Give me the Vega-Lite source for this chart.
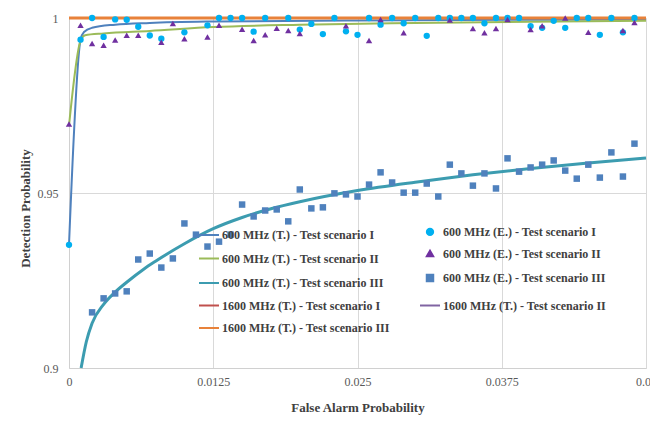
{
  "$schema": "https://vega.github.io/schema/vega-lite/v6.json",
  "width": 577,
  "height": 350,
  "autosize": {"type": "none"},
  "padding": {"left": 69, "top": 18, "right": 4, "bottom": 53},
  "background": "white",
  "config": {
    "view": {"stroke": null},
    "axis": {
      "labelFont": "Liberation Serif",
      "labelFontSize": 12,
      "labelColor": "#595959",
      "titleFont": "Liberation Serif",
      "titleFontSize": 13,
      "titleFontWeight": "bold",
      "titleColor": "#404040",
      "gridColor": "#d9d9d9",
      "domainColor": "#d0d0d0",
      "tickSize": 0
    }
  },
  "datasets": {
    "thin": [
      {"s": "600 MHz (T.) - Test scenario I", "x": 0, "y": 0.9352},
      {"s": "600 MHz (T.) - Test scenario I", "x": 0.001, "y": 0.9938},
      {"s": "600 MHz (T.) - Test scenario I", "x": 0.0013, "y": 0.996},
      {"s": "600 MHz (T.) - Test scenario I", "x": 0.002, "y": 0.9972},
      {"s": "600 MHz (T.) - Test scenario I", "x": 0.004, "y": 0.9981},
      {"s": "600 MHz (T.) - Test scenario I", "x": 0.007, "y": 0.9986},
      {"s": "600 MHz (T.) - Test scenario I", "x": 0.0125, "y": 0.999},
      {"s": "600 MHz (T.) - Test scenario I", "x": 0.025, "y": 0.9993},
      {"s": "600 MHz (T.) - Test scenario I", "x": 0.05, "y": 0.99957},
      {"s": "600 MHz (T.) - Test scenario II", "x": 0, "y": 0.9692},
      {"s": "600 MHz (T.) - Test scenario II", "x": 0.001, "y": 0.9935},
      {"s": "600 MHz (T.) - Test scenario II", "x": 0.0014, "y": 0.9951},
      {"s": "600 MHz (T.) - Test scenario II", "x": 0.003, "y": 0.9956},
      {"s": "600 MHz (T.) - Test scenario II", "x": 0.007, "y": 0.9963},
      {"s": "600 MHz (T.) - Test scenario II", "x": 0.0125, "y": 0.9974},
      {"s": "600 MHz (T.) - Test scenario II", "x": 0.02, "y": 0.9981},
      {"s": "600 MHz (T.) - Test scenario II", "x": 0.03, "y": 0.9986},
      {"s": "600 MHz (T.) - Test scenario II", "x": 0.04, "y": 0.9989},
      {"s": "600 MHz (T.) - Test scenario II", "x": 0.05, "y": 0.9992},
      {"s": "1600 MHz (T.) - Test scenario I", "x": 0, "y": 1},
      {"s": "1600 MHz (T.) - Test scenario I", "x": 0.05, "y": 1},
      {"s": "1600 MHz (T.) - Test scenario II", "x": 0, "y": 1},
      {"s": "1600 MHz (T.) - Test scenario II", "x": 0.05, "y": 1}
    ],
    "thick": [
      {"s": "600 MHz (T.) - Test scenario III", "x": 0.00105, "y": 0.9},
      {"s": "600 MHz (T.) - Test scenario III", "x": 0.0015, "y": 0.9075},
      {"s": "600 MHz (T.) - Test scenario III", "x": 0.002, "y": 0.9128},
      {"s": "600 MHz (T.) - Test scenario III", "x": 0.003, "y": 0.9182},
      {"s": "600 MHz (T.) - Test scenario III", "x": 0.004, "y": 0.9217},
      {"s": "600 MHz (T.) - Test scenario III", "x": 0.005, "y": 0.9245},
      {"s": "600 MHz (T.) - Test scenario III", "x": 0.0065, "y": 0.9283},
      {"s": "600 MHz (T.) - Test scenario III", "x": 0.0075, "y": 0.9305},
      {"s": "600 MHz (T.) - Test scenario III", "x": 0.01, "y": 0.9355},
      {"s": "600 MHz (T.) - Test scenario III", "x": 0.0125, "y": 0.9398},
      {"s": "600 MHz (T.) - Test scenario III", "x": 0.015, "y": 0.943},
      {"s": "600 MHz (T.) - Test scenario III", "x": 0.0175, "y": 0.9455},
      {"s": "600 MHz (T.) - Test scenario III", "x": 0.02, "y": 0.9475},
      {"s": "600 MHz (T.) - Test scenario III", "x": 0.025, "y": 0.9507},
      {"s": "600 MHz (T.) - Test scenario III", "x": 0.03, "y": 0.9531},
      {"s": "600 MHz (T.) - Test scenario III", "x": 0.035, "y": 0.9552},
      {"s": "600 MHz (T.) - Test scenario III", "x": 0.04, "y": 0.957},
      {"s": "600 MHz (T.) - Test scenario III", "x": 0.045, "y": 0.9586},
      {"s": "600 MHz (T.) - Test scenario III", "x": 0.05, "y": 0.96},
      {"s": "1600 MHz (T.) - Test scenario III", "x": 0, "y": 1},
      {"s": "1600 MHz (T.) - Test scenario III", "x": 0.05, "y": 1}
    ],
    "pts": [
      {"s": "600 MHz (E.) - Test scenario I", "x": 0, "y": 0.9352},
      {"s": "600 MHz (E.) - Test scenario I", "x": 0.001, "y": 0.9938},
      {"s": "600 MHz (E.) - Test scenario I", "x": 0.002, "y": 1},
      {"s": "600 MHz (E.) - Test scenario I", "x": 0.003, "y": 0.9946},
      {"s": "600 MHz (E.) - Test scenario I", "x": 0.004, "y": 0.9996},
      {"s": "600 MHz (E.) - Test scenario I", "x": 0.005, "y": 0.9995},
      {"s": "600 MHz (E.) - Test scenario I", "x": 0.006, "y": 0.9975},
      {"s": "600 MHz (E.) - Test scenario I", "x": 0.007, "y": 0.995},
      {"s": "600 MHz (E.) - Test scenario I", "x": 0.008, "y": 0.9941},
      {"s": "600 MHz (E.) - Test scenario I", "x": 0.01, "y": 0.9959},
      {"s": "600 MHz (E.) - Test scenario I", "x": 0.012, "y": 0.9979},
      {"s": "600 MHz (E.) - Test scenario I", "x": 0.013, "y": 1},
      {"s": "600 MHz (E.) - Test scenario I", "x": 0.014, "y": 1},
      {"s": "600 MHz (E.) - Test scenario I", "x": 0.015, "y": 1},
      {"s": "600 MHz (E.) - Test scenario I", "x": 0.016, "y": 0.9961},
      {"s": "600 MHz (E.) - Test scenario I", "x": 0.017, "y": 1},
      {"s": "600 MHz (E.) - Test scenario I", "x": 0.019, "y": 1},
      {"s": "600 MHz (E.) - Test scenario I", "x": 0.02, "y": 0.9967},
      {"s": "600 MHz (E.) - Test scenario I", "x": 0.021, "y": 0.9983},
      {"s": "600 MHz (E.) - Test scenario I", "x": 0.022, "y": 0.9954},
      {"s": "600 MHz (E.) - Test scenario I", "x": 0.023, "y": 1},
      {"s": "600 MHz (E.) - Test scenario I", "x": 0.024, "y": 0.9962},
      {"s": "600 MHz (E.) - Test scenario I", "x": 0.025, "y": 0.9952},
      {"s": "600 MHz (E.) - Test scenario I", "x": 0.026, "y": 1},
      {"s": "600 MHz (E.) - Test scenario I", "x": 0.027, "y": 0.9981},
      {"s": "600 MHz (E.) - Test scenario I", "x": 0.028, "y": 1},
      {"s": "600 MHz (E.) - Test scenario I", "x": 0.029, "y": 0.9985},
      {"s": "600 MHz (E.) - Test scenario I", "x": 0.03, "y": 1},
      {"s": "600 MHz (E.) - Test scenario I", "x": 0.031, "y": 0.9949},
      {"s": "600 MHz (E.) - Test scenario I", "x": 0.032, "y": 1},
      {"s": "600 MHz (E.) - Test scenario I", "x": 0.033, "y": 1},
      {"s": "600 MHz (E.) - Test scenario I", "x": 0.034, "y": 1},
      {"s": "600 MHz (E.) - Test scenario I", "x": 0.035, "y": 1},
      {"s": "600 MHz (E.) - Test scenario I", "x": 0.036, "y": 0.9985},
      {"s": "600 MHz (E.) - Test scenario I", "x": 0.037, "y": 1},
      {"s": "600 MHz (E.) - Test scenario I", "x": 0.038, "y": 1},
      {"s": "600 MHz (E.) - Test scenario I", "x": 0.039, "y": 1},
      {"s": "600 MHz (E.) - Test scenario I", "x": 0.04, "y": 0.9977},
      {"s": "600 MHz (E.) - Test scenario I", "x": 0.041, "y": 0.9972},
      {"s": "600 MHz (E.) - Test scenario I", "x": 0.042, "y": 0.9992},
      {"s": "600 MHz (E.) - Test scenario I", "x": 0.043, "y": 0.9972},
      {"s": "600 MHz (E.) - Test scenario I", "x": 0.044, "y": 1},
      {"s": "600 MHz (E.) - Test scenario I", "x": 0.045, "y": 1},
      {"s": "600 MHz (E.) - Test scenario I", "x": 0.046, "y": 0.9952},
      {"s": "600 MHz (E.) - Test scenario I", "x": 0.047, "y": 1},
      {"s": "600 MHz (E.) - Test scenario I", "x": 0.048, "y": 0.9959},
      {"s": "600 MHz (E.) - Test scenario I", "x": 0.049, "y": 1},
      {"s": "600 MHz (E.) - Test scenario II", "x": 0, "y": 0.9697},
      {"s": "600 MHz (E.) - Test scenario II", "x": 0.001, "y": 0.9979},
      {"s": "600 MHz (E.) - Test scenario II", "x": 0.002, "y": 0.9927},
      {"s": "600 MHz (E.) - Test scenario II", "x": 0.003, "y": 0.9922},
      {"s": "600 MHz (E.) - Test scenario II", "x": 0.004, "y": 0.9937},
      {"s": "600 MHz (E.) - Test scenario II", "x": 0.005, "y": 0.9951},
      {"s": "600 MHz (E.) - Test scenario II", "x": 0.006, "y": 0.9951},
      {"s": "600 MHz (E.) - Test scenario II", "x": 0.008, "y": 0.9931},
      {"s": "600 MHz (E.) - Test scenario II", "x": 0.009, "y": 0.9984},
      {"s": "600 MHz (E.) - Test scenario II", "x": 0.01, "y": 0.9941},
      {"s": "600 MHz (E.) - Test scenario II", "x": 0.012, "y": 0.9946},
      {"s": "600 MHz (E.) - Test scenario II", "x": 0.013, "y": 0.9979},
      {"s": "600 MHz (E.) - Test scenario II", "x": 0.015, "y": 0.9968},
      {"s": "600 MHz (E.) - Test scenario II", "x": 0.016, "y": 0.9936},
      {"s": "600 MHz (E.) - Test scenario II", "x": 0.017, "y": 0.9952},
      {"s": "600 MHz (E.) - Test scenario II", "x": 0.018, "y": 0.9971},
      {"s": "600 MHz (E.) - Test scenario II", "x": 0.019, "y": 0.9964},
      {"s": "600 MHz (E.) - Test scenario II", "x": 0.02, "y": 0.9956},
      {"s": "600 MHz (E.) - Test scenario II", "x": 0.024, "y": 0.9978},
      {"s": "600 MHz (E.) - Test scenario II", "x": 0.026, "y": 0.9936},
      {"s": "600 MHz (E.) - Test scenario II", "x": 0.027, "y": 0.9996},
      {"s": "600 MHz (E.) - Test scenario II", "x": 0.029, "y": 0.9958},
      {"s": "600 MHz (E.) - Test scenario II", "x": 0.033, "y": 0.9994},
      {"s": "600 MHz (E.) - Test scenario II", "x": 0.035, "y": 0.997},
      {"s": "600 MHz (E.) - Test scenario II", "x": 0.036, "y": 0.9958},
      {"s": "600 MHz (E.) - Test scenario II", "x": 0.037, "y": 0.997},
      {"s": "600 MHz (E.) - Test scenario II", "x": 0.038, "y": 0.9996},
      {"s": "600 MHz (E.) - Test scenario II", "x": 0.04, "y": 0.9967},
      {"s": "600 MHz (E.) - Test scenario II", "x": 0.041, "y": 0.9978},
      {"s": "600 MHz (E.) - Test scenario II", "x": 0.043, "y": 1},
      {"s": "600 MHz (E.) - Test scenario II", "x": 0.045, "y": 0.9959},
      {"s": "600 MHz (E.) - Test scenario II", "x": 0.048, "y": 0.9964},
      {"s": "600 MHz (E.) - Test scenario II", "x": 0.049, "y": 0.9987},
      {"s": "600 MHz (E.) - Test scenario III", "x": 0.002, "y": 0.9159},
      {"s": "600 MHz (E.) - Test scenario III", "x": 0.003, "y": 0.9199},
      {"s": "600 MHz (E.) - Test scenario III", "x": 0.004, "y": 0.9213},
      {"s": "600 MHz (E.) - Test scenario III", "x": 0.005, "y": 0.9219},
      {"s": "600 MHz (E.) - Test scenario III", "x": 0.006, "y": 0.931},
      {"s": "600 MHz (E.) - Test scenario III", "x": 0.007, "y": 0.9327},
      {"s": "600 MHz (E.) - Test scenario III", "x": 0.008, "y": 0.9287},
      {"s": "600 MHz (E.) - Test scenario III", "x": 0.009, "y": 0.9313},
      {"s": "600 MHz (E.) - Test scenario III", "x": 0.01, "y": 0.9413},
      {"s": "600 MHz (E.) - Test scenario III", "x": 0.011, "y": 0.9381},
      {"s": "600 MHz (E.) - Test scenario III", "x": 0.012, "y": 0.9347},
      {"s": "600 MHz (E.) - Test scenario III", "x": 0.013, "y": 0.9361},
      {"s": "600 MHz (E.) - Test scenario III", "x": 0.014, "y": 0.9381},
      {"s": "600 MHz (E.) - Test scenario III", "x": 0.015, "y": 0.9467},
      {"s": "600 MHz (E.) - Test scenario III", "x": 0.016, "y": 0.9433},
      {"s": "600 MHz (E.) - Test scenario III", "x": 0.017, "y": 0.945},
      {"s": "600 MHz (E.) - Test scenario III", "x": 0.018, "y": 0.9453},
      {"s": "600 MHz (E.) - Test scenario III", "x": 0.019, "y": 0.9419},
      {"s": "600 MHz (E.) - Test scenario III", "x": 0.02, "y": 0.951},
      {"s": "600 MHz (E.) - Test scenario III", "x": 0.021, "y": 0.9456},
      {"s": "600 MHz (E.) - Test scenario III", "x": 0.022, "y": 0.9459},
      {"s": "600 MHz (E.) - Test scenario III", "x": 0.023, "y": 0.9499},
      {"s": "600 MHz (E.) - Test scenario III", "x": 0.024, "y": 0.9496},
      {"s": "600 MHz (E.) - Test scenario III", "x": 0.025, "y": 0.949},
      {"s": "600 MHz (E.) - Test scenario III", "x": 0.026, "y": 0.9524},
      {"s": "600 MHz (E.) - Test scenario III", "x": 0.027, "y": 0.9559},
      {"s": "600 MHz (E.) - Test scenario III", "x": 0.028, "y": 0.953},
      {"s": "600 MHz (E.) - Test scenario III", "x": 0.029, "y": 0.9501},
      {"s": "600 MHz (E.) - Test scenario III", "x": 0.03, "y": 0.9501},
      {"s": "600 MHz (E.) - Test scenario III", "x": 0.031, "y": 0.9527},
      {"s": "600 MHz (E.) - Test scenario III", "x": 0.032, "y": 0.949},
      {"s": "600 MHz (E.) - Test scenario III", "x": 0.033, "y": 0.9581},
      {"s": "600 MHz (E.) - Test scenario III", "x": 0.034, "y": 0.9556},
      {"s": "600 MHz (E.) - Test scenario III", "x": 0.035, "y": 0.9521},
      {"s": "600 MHz (E.) - Test scenario III", "x": 0.036, "y": 0.9556},
      {"s": "600 MHz (E.) - Test scenario III", "x": 0.037, "y": 0.9513},
      {"s": "600 MHz (E.) - Test scenario III", "x": 0.038, "y": 0.9599},
      {"s": "600 MHz (E.) - Test scenario III", "x": 0.039, "y": 0.9561},
      {"s": "600 MHz (E.) - Test scenario III", "x": 0.04, "y": 0.9573},
      {"s": "600 MHz (E.) - Test scenario III", "x": 0.041, "y": 0.9581},
      {"s": "600 MHz (E.) - Test scenario III", "x": 0.042, "y": 0.9593},
      {"s": "600 MHz (E.) - Test scenario III", "x": 0.043, "y": 0.9564},
      {"s": "600 MHz (E.) - Test scenario III", "x": 0.044, "y": 0.9541},
      {"s": "600 MHz (E.) - Test scenario III", "x": 0.045, "y": 0.9581},
      {"s": "600 MHz (E.) - Test scenario III", "x": 0.046, "y": 0.9544},
      {"s": "600 MHz (E.) - Test scenario III", "x": 0.047, "y": 0.9616},
      {"s": "600 MHz (E.) - Test scenario III", "x": 0.048, "y": 0.9547},
      {"s": "600 MHz (E.) - Test scenario III", "x": 0.049, "y": 0.9641}
    ]
  },
  "encoding": {
    "x": {
      "field": "x", "type": "quantitative",
      "scale": {"domain": [0, 0.05], "nice": false, "zero": false},
      "axis": {
        "title": "False Alarm Probability",
        "values": [0, 0.0125, 0.025, 0.0375, 0.05],
        "labelExpr": "format(datum.value, '~g')",
        "labelPadding": 8,
        "labelFlush": false,
        "titleY": 39,
        "titleBaseline": "middle"
      }
    },
    "y": {
      "field": "y", "type": "quantitative",
      "scale": {"domain": [0.9, 1], "nice": false, "zero": false},
      "axis": {
        "title": "Detection Probability",
        "values": [0.9, 0.95, 1],
        "labelExpr": "format(datum.value, '~g')",
        "labelPadding": 11,
        "titleX": -44,
        "titleY": 190,
        "titleAngle": 270,
        "titleAlign": "center",
        "titleBaseline": "middle"
      }
    },
    "color": {
      "field": "s", "type": "nominal",
      "scale": {
        "domain": ["600 MHz (T.) - Test scenario I", "600 MHz (E.) - Test scenario I", "600 MHz (T.) - Test scenario II", "600 MHz (E.) - Test scenario II", "600 MHz (T.) - Test scenario III", "600 MHz (E.) - Test scenario III", "1600 MHz (T.) - Test scenario I", "1600 MHz (T.) - Test scenario II", "1600 MHz (T.) - Test scenario III"],
        "range": ["#4f81bd", "#00b0f0", "#9bbb59", "#7030a0", "#3c9cb0", "#4f81bd", "#c0504d", "#8064a2", "#e8823a"]
      },
      "legend": {
        "title": null,
        "orient": "none",
        "direction": "horizontal",
        "legendX": 129,
        "legendY": 206,
        "columns": 2,
        "columnPadding": 26,
        "rowPadding": 5.5,
        "symbolStrokeWidth": 2,
        "labelFont": "Liberation Serif",
        "labelFontSize": 12,
        "labelFontWeight": "bold",
        "labelColor": "#404040",
        "labelOffset": 2,
        "labelLimit": 400
      }
    }
  },
  "layer": [
    {
      "data": {"name": "thin"},
      "mark": {"type": "line", "interpolate": "monotone", "strokeWidth": 2}
    },
    {
      "data": {"name": "thick"},
      "mark": {"type": "line", "interpolate": "monotone", "strokeWidth": 3}
    },
    {
      "data": {"name": "pts"},
      "mark": {"type": "point", "filled": true, "opacity": 1},
      "encoding": {
        "shape": {
          "field": "s", "type": "nominal",
          "scale": {
            "domain": ["600 MHz (T.) - Test scenario I", "600 MHz (E.) - Test scenario I", "600 MHz (T.) - Test scenario II", "600 MHz (E.) - Test scenario II", "600 MHz (T.) - Test scenario III", "600 MHz (E.) - Test scenario III", "1600 MHz (T.) - Test scenario I", "1600 MHz (T.) - Test scenario II", "1600 MHz (T.) - Test scenario III"],
            "range": ["stroke", "circle", "stroke", "triangle-up", "stroke", "square", "stroke", "stroke", "stroke"]
          },
          "legend": {"title": null}
        },
        "size": {
          "field": "s", "type": "nominal",
          "scale": {
            "type": "ordinal",
            "domain": ["600 MHz (T.) - Test scenario I", "600 MHz (E.) - Test scenario I", "600 MHz (T.) - Test scenario II", "600 MHz (E.) - Test scenario II", "600 MHz (T.) - Test scenario III", "600 MHz (E.) - Test scenario III", "1600 MHz (T.) - Test scenario I", "1600 MHz (T.) - Test scenario II", "1600 MHz (T.) - Test scenario III"],
            "range": [400, 40, 400, 40, 400, 42, 400, 400, 400]
          },
          "legend": {"title": null}
        }
      }
    }
  ]
}
